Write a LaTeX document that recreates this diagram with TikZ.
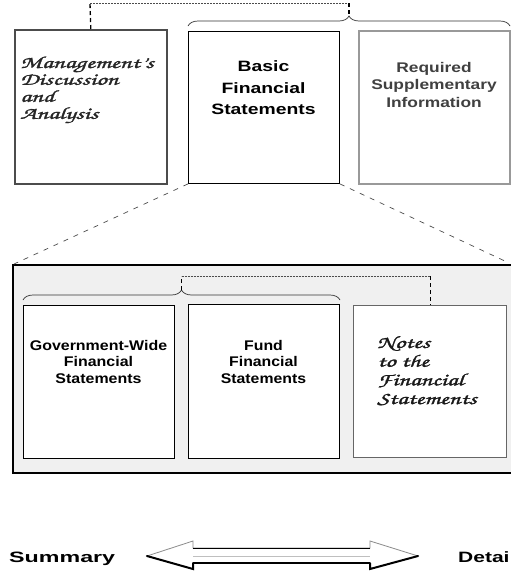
\documentclass[tikz,border=0pt]{standalone}
\usepackage[T1]{fontenc}
\usepackage{fontspec}
\setmainfont{Liberation Sans}
\usepackage{graphicx}
\usetikzlibrary{decorations.pathreplacing}
\newcommand{\chancery}{\fontencoding{T1}\fontfamily{pzc}\fontseries{mb}\fontshape{it}\selectfont}
\newcommand{\xs}[2]{\scalebox{#1}[1]{#2}}
\newcommand{\heavy}[1]{\special{pdf:literal direct 2 Tr 0.22 w}#1\special{pdf:literal direct 0 Tr}}
\begin{document}
\begin{tikzpicture}[x=1pt,y=-1pt,
  boxbase/.style={anchor=north west,inner sep=0pt,fill=white},
  plainbox/.style={boxbase,draw=black,line width=0.9pt},
  mdabox/.style={boxbase,draw=black!70,line width=1.6pt},
  rsibox/.style={boxbase,draw=black!40,line width=1.6pt},
  notesbox/.style={boxbase,draw=black!60,line width=1.3pt},
  lbl/.style={inner sep=0pt,anchor=base,font=\bfseries},
  bracestyle/.style={decorate,decoration={brace,amplitude=10pt},line width=0.7pt,draw=black!80},
  vdash/.style={draw=black,line width=1.3pt,dash pattern=on 4pt off 3pt},
  hdash/.style={draw=black!70,line width=0.6pt,dash pattern=on 2pt off 1pt},
  diag/.style={draw=black!70,line width=0.7pt,dash pattern=on 5pt off 6pt}
]
\path[use as bounding box,fill=white] (0,0) rectangle (511,571);

% top row boxes
\node[mdabox,minimum width=152pt,minimum height=154pt] (mda) at (14,29) {};
\node[plainbox,minimum width=151pt,minimum height=152pt] (bfs) at (188,31) {};
\node[rsibox,minimum width=151pt,minimum height=153pt] (rsi) at (358,30) {};

% container
\coordinate (ctl) at (13,265);
\coordinate (cbl) at (13,473);
\coordinate (ctr) at (512,265);
\coordinate (cbr) at (512,473);
\fill[black!6] (ctl) rectangle (cbr);
\draw[line width=2pt] (ctr) -- (ctl) -- (cbl) -- (cbr);

% lower boxes
\node[plainbox,minimum width=151pt,minimum height=153pt] (gw) at (23,305) {};
\node[plainbox,minimum width=151pt,minimum height=154pt] (fund) at (188,304) {};
\node[notesbox,minimum width=153pt,minimum height=152pt] (notes) at (353,305) {};

% top labels
\node[lbl,font=\bfseries\fontsize{15}{21.3}\selectfont] (bfst) at (263.5,71.7)
  {\xs{1.29}{\begin{tabular}[t]{@{}c@{}}Basic\\Financial\\Statements\end{tabular}}};
\node[lbl,text=black!75,font=\bfseries\fontsize{14}{17.5}\selectfont] (rsit) at (434,72)
  {\xs{1.24}{\begin{tabular}[t]{@{}c@{}}Required\\Supplementary\\Information\end{tabular}}};
\node[inner sep=0pt,anchor=base west,text=black!85,font=\chancery\fontsize{17}{16.5}\selectfont] (mdat) at (20,68)
  {\heavy{\xs{1.52}{\begin{tabular}[t]{@{}l@{}}Management's\\Discussion\\and\\Analysis\end{tabular}}}};

% lower labels
\node[lbl,font=\bfseries\fontsize{14}{16.5}\selectfont] (gwt) at (98.5,350)
  {\xs{1.14}{\begin{tabular}[t]{@{}c@{}}Government-Wide\\Financial\\Statements\end{tabular}}};
\node[lbl,font=\bfseries\fontsize{14}{16.5}\selectfont] (fundt) at (263.5,350)
  {\xs{1.13}{\begin{tabular}[t]{@{}c@{}}Fund\\Financial\\Statements\end{tabular}}};
\node[inner sep=0pt,anchor=base west,text=black!90,font=\chancery\fontsize{17.5}{18.7}\selectfont] (notest) at (377,348)
  {\heavy{\xs{1.45}{\begin{tabular}[t]{@{}l@{}}Notes\\to the\\Financial\\Statements\end{tabular}}}};

% braces
\coordinate (tbl) at (188,26);
\coordinate (tbr) at (510,26);
\coordinate (ttip) at (349,16);
\draw[bracestyle] (tbl) -- (tbr);
\coordinate (lbl0) at (23,300);
\coordinate (lbr0) at (340,300);
\coordinate (ltip) at (181.5,290);
\draw[bracestyle] (lbl0) -- (lbr0);

% top dashed link
\coordinate (ta) at (90,3);
\coordinate (tb) at (349,3);
\draw[vdash] (mda.north) -- (ta);
\draw[hdash] (ta) -- (tb);
\draw[vdash] (tb) -- (ttip);

% lower dashed link
\coordinate (la) at (181.5,276);
\coordinate (lb) at (notes.north |- la);
\draw[vdash] (ltip) -- (la);
\draw[hdash] (la) -- (lb);
\draw[vdash] (lb) -- (notes.north);

% zoom lines
\coordinate (dl) at (14,264);
\coordinate (dr) at (507,262);
\draw[diag] (bfs.south west) -- (dl);
\draw[diag] (bfs.south east) -- (dr);

% bottom arrow
\node[inner sep=0pt,anchor=base west,font=\bfseries\fontsize{15}{15}\selectfont] (sum) at (9,562) {\xs{1.55}{Summary}};
\node[inner sep=0pt,anchor=base west,font=\bfseries\fontsize{15}{15}\selectfont] (det) at (458,562) {\xs{1.4}{Detai}};
\coordinate (at1) at (147,556);
\coordinate (ah1) at (193,541);
\coordinate (as1) at (193,548);
\coordinate (as2) at (370,548);
\coordinate (ah2) at (370,541);
\coordinate (at2) at (418,556);
\coordinate (ah3) at (370,569);
\coordinate (as3) at (370,563);
\coordinate (as4) at (193,563);
\coordinate (ah4) at (193,569);
\draw[fill=white,draw=black!45,line width=0.8pt] (at1) -- (ah1) -- (as1) -- (as2) -- (ah2) -- (at2) -- (ah3) -- (as3) -- (as4) -- (ah4) -- cycle;
\draw[black!25,line width=0.8pt] (as1 |- at1) -- (as2 |- at1);
\draw[black,line width=1pt] (as1) -- (as2);
\draw[black,line width=2.2pt] (as4) -- (as3);
\draw[black,line width=2pt,line cap=round] (at1) -- (ah4) -- (as4);
\draw[black,line width=2pt,line cap=round] (as3) -- (ah3) -- (at2);
\end{tikzpicture}
\end{document}
